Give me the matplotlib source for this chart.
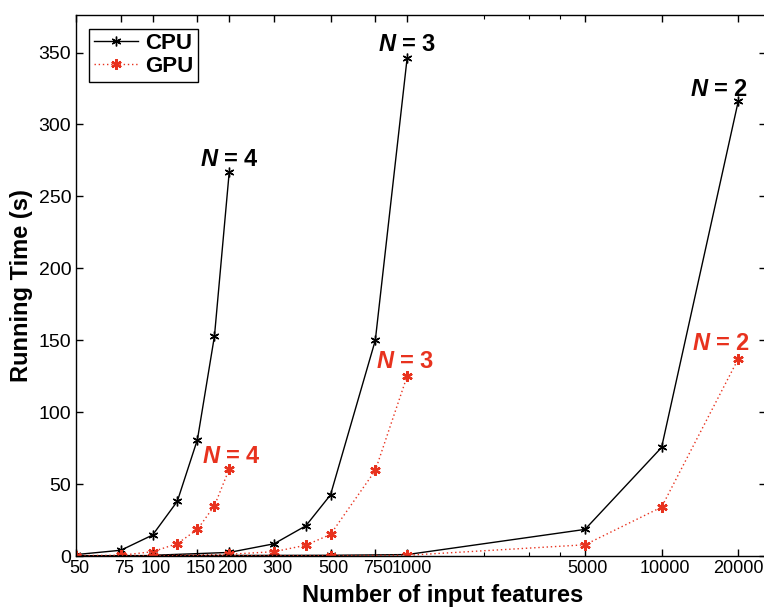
import matplotlib
matplotlib.use('Agg')
import matplotlib.pyplot as plt
import matplotlib.transforms as mtransforms
from matplotlib.ticker import FixedLocator, NullFormatter

plt.rcParams['font.family'] = ['Liberation Sans', 'DejaVu Sans']
plt.rcParams['mathtext.fontset'] = 'custom'
plt.rcParams['mathtext.bfit'] = 'Liberation Sans:bold:italic'

# N = 4
x4 = [50, 75, 100, 125, 150, 175, 200]
cpu4 = [1, 4, 14.6, 38, 81, 153, 267]
gpu4 = [0.3, 0.5, 3, 8.6, 18.5, 35, 60.5]

# N = 3
x3 = [100, 200, 300, 400, 500, 750, 1000]
cpu3 = [0.5, 2.5, 8.5, 21, 42.5, 150, 346]
gpu3 = [0.3, 1.2, 3, 7.5, 15, 59.5, 125]

# N = 2
x2 = [50, 100, 500, 1000, 5000, 10000, 20000]
cpu2 = [0.2, 0.3, 0.5, 1, 18.5, 75.5, 316]
gpu2 = [0.1, 0.2, 0.3, 0.5, 7.8, 34, 137]

xticks = [50, 75, 100, 150, 200, 300, 500, 750, 1000, 5000, 10000, 20000]
red = '#e8321e'

fig = plt.figure(figsize=(7.64, 6.07), dpi=100)
ax = fig.add_axes([0.0995, 0.084, 0.903, 0.891])

ast = (6, 2, 0)
cpu_kw = dict(color='black', lw=1.0, marker=ast, ms=7, mew=1.0)
gpu_kw = dict(color=red, lw=1.0, ls=(0, (1, 2)), marker=ast, ms=7.5, mew=1.7)

ax.plot(x4, cpu4, label='CPU', **cpu_kw)
ax.plot(x4, gpu4, label='GPU', **gpu_kw)
ax.plot(x3, cpu3, **cpu_kw)
ax.plot(x3, gpu3, **gpu_kw)
ax.plot(x2, cpu2, **cpu_kw)
ax.plot(x2, gpu2, **gpu_kw)

ax.set_xscale('log')
ax.set_xlim(50, 25700)
ax.set_ylim(0, 376)
ax.set_xticks(xticks)
ax.set_xticklabels([str(t) for t in xticks])
ax.xaxis.set_minor_locator(FixedLocator([2000, 3000, 4000]))
ax.xaxis.set_minor_formatter(NullFormatter())
ax.set_yticks(range(0, 351, 50))

ax.tick_params(direction='in', top=True, right=True, labelsize=14, length=5, width=1)
ax.tick_params(axis='x', pad=3, labelsize=13)
ax.tick_params(which='minor', direction='in', top=True, length=3, width=0.8)
for s in ax.spines.values():
    s.set_linewidth(1.0)

# x tick labels sit a few pixels right of their ticks in the original
for lbl, t in zip(ax.get_xticklabels(), xticks):
    dx = 0 if t == 20000 else (5 if t == 1000 else 3)
    shift = mtransforms.ScaledTranslation(dx / 100, 0, fig.dpi_scale_trans)
    lbl.set_transform(lbl.get_transform() + shift)

ax.set_xlabel('Number of input features', fontsize=17, fontweight='bold')
ax.xaxis.set_label_coords(0.532, -0.052)
ax.set_ylabel('Running Time (s)', fontsize=17, fontweight='bold', labelpad=4)

lab_kw = dict(fontsize=17, fontweight='bold', ha='center', va='baseline')
ax.text(200, 271, r'$\mathbfit{N}$ = 4', color='black', **lab_kw)
ax.text(1000, 351, r'$\mathbfit{N}$ = 3', color='black', **lab_kw)
ax.text(16800, 320, r'$\mathbfit{N}$ = 2', color='black', **lab_kw)
ax.text(205, 65, r'$\mathbfit{N}$ = 4', color=red, **lab_kw)
ax.text(980, 131, r'$\mathbfit{N}$ = 3', color=red, **lab_kw)
ax.text(17200, 143, r'$\mathbfit{N}$ = 2', color=red, **lab_kw)

leg = ax.legend(loc='upper left', prop={'size': 16, 'weight': 'bold'}, fancybox=False,
                edgecolor='black', framealpha=1, borderpad=0.2, labelspacing=0.1,
                handlelength=2.0, handletextpad=0.3, borderaxespad=0.6)
leg.get_frame().set_linewidth(1.0)

fig.savefig('out.png', dpi=100)
